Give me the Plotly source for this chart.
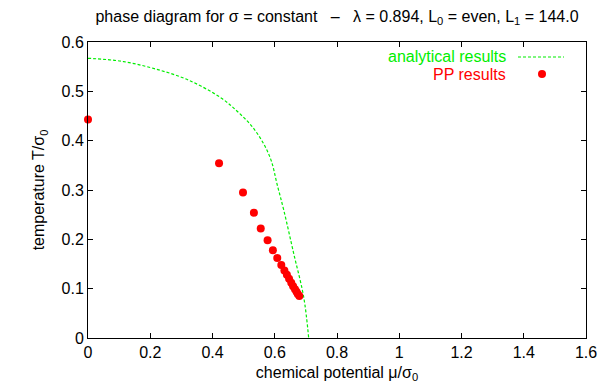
import plotly.graph_objects as go

# PP results (points)
pp_mu = [0.0, 0.421, 0.498, 0.533, 0.555, 0.577, 0.594, 0.608, 0.621, 0.631,
         0.639, 0.646, 0.653, 0.659, 0.665, 0.670, 0.674, 0.679]
pp_T = [0.443, 0.354, 0.295, 0.254, 0.222, 0.198, 0.178, 0.162, 0.148, 0.137,
        0.128, 0.120, 0.112, 0.105, 0.099, 0.094, 0.089, 0.085]

# analytical results (curve)
an_mu = [0.0, 0.107, 0.213, 0.322, 0.429, 0.482, 0.528, 0.564, 0.589, 0.607,
         0.629, 0.661, 0.693, 0.709]
an_T = [0.567, 0.561, 0.546, 0.523, 0.486, 0.458, 0.428, 0.394, 0.359, 0.313,
        0.259, 0.171, 0.083, 0.0]

x_ticks = [0, 0.2, 0.4, 0.6, 0.8, 1.0, 1.2, 1.4, 1.6]
x_labels = ["0", "0.2", "0.4", "0.6", "0.8", "1", "1.2", "1.4", "1.6"]
y_ticks = [0, 0.1, 0.2, 0.3, 0.4, 0.5, 0.6]
y_labels = ["0", "0.1", "0.2", "0.3", "0.4", "0.5", "0.6"]

GREEN = "#00ee00"
RED = "#ff0000"
FONT = "Liberation Sans, Arial, sans-serif"
FS = 16

fig = go.Figure()
fig.add_trace(go.Scatter(x=an_mu, y=an_T, mode="lines", line_shape="spline",
                         line=dict(color=GREEN, width=1.2, dash="3px,2px"),
                         name="analytical results", showlegend=False))
fig.add_trace(go.Scatter(x=pp_mu, y=pp_T, mode="markers",
                         marker=dict(color=RED, size=8, symbol="circle", line=dict(width=0)),
                         name="PP results", showlegend=False, cliponaxis=False))

W, H = 601, 389
L, R, T, B = 88, 15, 42, 51
pw, ph = W - L - R, H - T - B

def px(x):
    return (x - L) / pw

def py(y):
    return 1 - (y - T) / ph

# legend (gnuplot style: text on left, sample on right)
fig.add_annotation(xref="paper", yref="paper", x=px(508), y=py(57), text="analytical results",
                   showarrow=False, xanchor="right", yanchor="middle",
                   font=dict(color=GREEN, size=FS, family=FONT))
fig.add_annotation(xref="paper", yref="paper", x=px(508), y=py(74), text="PP results",
                   showarrow=False, xanchor="right", yanchor="middle",
                   font=dict(color=RED, size=FS, family=FONT))
fig.add_shape(type="line", xref="paper", yref="paper", x0=px(518), x1=px(564), y0=py(57), y1=py(57),
              line=dict(color=GREEN, width=1.2, dash="3px,2px"))
fig.add_shape(type="circle", xref="paper", yref="paper", x0=px(538), x1=px(546), y0=py(70), y1=py(78),
              fillcolor=RED, line=dict(width=0))

axis_common = dict(showline=True, linecolor="black", linewidth=1, mirror="allticks",
                   ticks="inside", ticklen=5, tickcolor="black", showgrid=False, zeroline=False,
                   automargin=False,
                   tickfont=dict(size=FS, family=FONT, color="black"))

fig.update_layout(
    width=W, height=H,
    margin=dict(l=L, r=R, t=T, b=B),
    paper_bgcolor="white", plot_bgcolor="white",
    font=dict(family=FONT, size=FS, color="black"),
    title=dict(text="phase diagram for σ = constant   –   λ = 0.894, L<sub>0</sub> = even, L<sub>1</sub> = 144.0",
               x=(L + pw / 2) / W, xanchor="center", y=1 - 16 / H, yanchor="middle",
               font=dict(size=FS, family=FONT)),
    xaxis=dict(range=[0, 1.6], tickvals=x_ticks, ticktext=x_labels,
               title=dict(text="chemical potential μ/σ<sub>0</sub>", standoff=6, font=dict(size=FS)),
               **axis_common),
    yaxis=dict(range=[0, 0.6], tickvals=y_ticks, ticktext=y_labels,
               title=dict(text="temperature T/σ<sub>0</sub>", standoff=12, font=dict(size=FS)),
               **axis_common),
)

fig.write_html("out.html", config={"displayModeBar": False},
               post_script="document.body.style.margin='0';document.body.style.padding='0';")
